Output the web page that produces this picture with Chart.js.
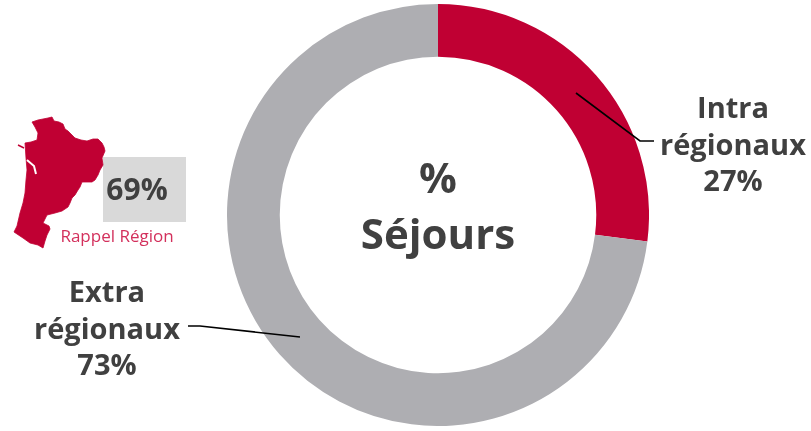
<!DOCTYPE html>
<html lang="fr">
<head>
<meta charset="utf-8">
<title>% Séjours</title>
<script src="https://cdn.jsdelivr.net/npm/chart.js@4"></script>
<style>
    html, body { margin: 0; padding: 0; background: #fff; }
    #page { position: relative; width: 811px; height: 431px; overflow: hidden; font-family: "Open Sans", sans-serif; color: #404040; }
    #page svg { position: absolute; left: 0; top: 0; }
    .chart-container { position: absolute; left: 227px; top: 4px; width: 422px; height: 422px; }
    .txt { position: absolute; text-align: center; font-weight: 700; white-space: nowrap; }
    #boite { position: absolute; left: 103px; top: 157px; width: 83px; height: 65px; background: #d9d9d9; }
</style>
</head>
<body>
<div id="page">
    <div id="boite"></div>
    <div class="chart-container"><canvas id="chartSejours"></canvas></div>
    <svg width="811" height="431" viewBox="0 0 811 431">
        <!-- carte de la region, tracee a la main -->
        <path fill="#c00033" stroke="#c00033" stroke-width="0.8" stroke-linejoin="round" d="M32 122 L38 120 L43 119 L48 118 L52 117 L54 121 L59 122 L63 124 L65 129 L68 131 L72 135 L75 138 L81 140 L87 141 L93 139 L98 139 L102 143 L104 147 L105 151 L102 158 L103 165 L100 170 L98 175 L95 180 L92 182 L82 182 L80 187 L78 190 L75 195 L72 198 L70 203 L68 207 L62 211 L55 213 L47 215 L45 219 L43 223 L49 226 L50 229 L47 235 L45 241 L43 248 L38 245 L30 243 L23 238 L14 232 L17 226 L20 213 L23 203 L25 193 L26 180 L27 170 L26 158 L25 143 L31 142 L37 140 L38 133 L35 127 Z"/>
        <path fill="none" stroke="#c00033" stroke-width="1.5" d="M18 145 L24 148"/>
        <path fill="none" stroke="#fff" stroke-width="2" d="M27 160 L34 166 L36 174"/>
        <path fill="none" stroke="#000" stroke-width="1.6" d="M576 93 L640 141 L654 141"/>
        <path fill="none" stroke="#000" stroke-width="1.6" d="M188 326 L200 326 L300 337"/>
    </svg>
    <div class="txt" id="centre" style="left:338px; top:149px; width:200px; font-size:42px; line-height:56px;"></div>
    <div class="txt" id="labelIntra" style="left:633px; top:89px; width:200px; font-size:29px; line-height:36.5px;"></div>
    <div class="txt" id="labelExtra" style="left:7px; top:273px; width:200px; font-size:29px; line-height:36.5px;"></div>
    <div class="txt" id="rappelValeur" style="left:97px; top:171px; width:80px; font-size:30px; line-height:36px;"></div>
    <div class="txt" id="rappelTitre" style="left:57px; top:226px; width:120px; font-size:17px; line-height:20px; font-weight:400; color:#d3305c;"></div>
</div>

<script>
const categories = ["Intra régionaux", "Extra régionaux"];
const valeurs = [27, 73];
const couleurs = ["#c00033", "#aeaeb2"];
const titreCentre = ["%", "Séjours"];
const rappelValeur = 69;
const rappelTitre = "Rappel Région";

function libelle(i) {
    const mots = categories[i].split(" ");
    return `${mots[0]}<br>${mots[1]}<br>${valeurs[i]}%`;
}

document.getElementById("centre").innerHTML = titreCentre.join("<br>");
document.getElementById("labelIntra").innerHTML = libelle(0);
document.getElementById("labelExtra").innerHTML = libelle(1);
document.getElementById("rappelValeur").textContent = rappelValeur + "%";
document.getElementById("rappelTitre").textContent = rappelTitre;

const ctx = document.getElementById("chartSejours").getContext("2d");

new Chart(ctx, {
    type: "doughnut",
    data: {
        labels: categories,
        datasets: [{
            data: valeurs,
            backgroundColor: couleurs,
            borderWidth: 0
        }]
    },
    options: {
        responsive: true,
        maintainAspectRatio: false,
        animation: false,
        cutout: "75%",
        plugins: {
            legend: { display: false },
            tooltip: { enabled: false }
        }
    }
});
</script>
</body>
</html>
